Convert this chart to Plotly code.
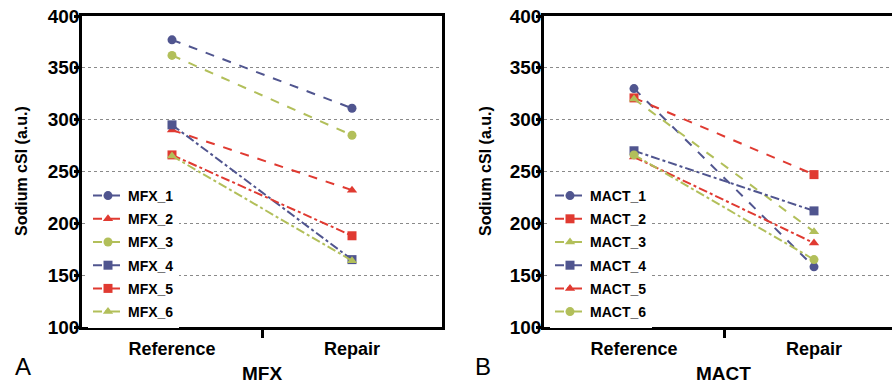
import plotly.graph_objects as go

categories = ["Reference", "Repair"]

mfx_names = ["MFX_1", "MFX_2", "MFX_3", "MFX_4", "MFX_5", "MFX_6"]
mfx_values = [
    [377, 311],
    [290, 232],
    [362, 285],
    [295, 165],
    [266, 188],
    [265, 164],
]

mact_names = ["MACT_1", "MACT_2", "MACT_3", "MACT_4", "MACT_5", "MACT_6"]
mact_values = [
    [330, 158],
    [321, 247],
    [320, 192],
    [270, 212],
    [264, 181],
    [266, 165],
]

y_ticks = [100, 150, 200, 250, 300, 350, 400]

NAVY = "#50558f"
RED = "#e03a31"
OLIVE = "#b2bf5a"

mfx_styles = [
    (NAVY, "circle", "dash"),
    (RED, "triangle-up", "dash"),
    (OLIVE, "circle", "dash"),
    (NAVY, "square", "dashdot"),
    (RED, "square", "dashdot"),
    (OLIVE, "triangle-up", "dashdot"),
]
mact_styles = [
    (NAVY, "circle", "dash"),
    (RED, "square", "dash"),
    (OLIVE, "triangle-up", "dash"),
    (NAVY, "square", "dashdot"),
    (RED, "triangle-up", "dashdot"),
    (OLIVE, "circle", "dashdot"),
]

xpos = list(range(len(categories)))

W, H = 892, 388


def px(x):
    return x / W


def py(y):
    return (H - y) / H


fig = go.Figure()

for i, (name, vals) in enumerate(zip(mfx_names, mfx_values)):
    c, sym, dash = mfx_styles[i]
    fig.add_trace(go.Scatter(
        x=xpos, y=vals, name="<b>%s</b>" % name, mode="lines+markers",
        line=dict(color=c, width=2, dash=dash),
        marker=dict(color=c, symbol=sym, size=9),
        xaxis="x", yaxis="y", legend="legend", legendgroup="a%d" % i,
    ))

for i, (name, vals) in enumerate(zip(mact_names, mact_values)):
    c, sym, dash = mact_styles[i]
    fig.add_trace(go.Scatter(
        x=xpos, y=vals, name="<b>%s</b>" % name, mode="lines+markers",
        line=dict(color=c, width=2, dash=dash),
        marker=dict(color=c, symbol=sym, size=9),
        xaxis="x2", yaxis="y2", legend="legend2", legendgroup="b%d" % i,
    ))

ydom = [py(327), py(16)]
xdom1 = [px(82), px(442)]
xdom2 = [px(544), 1.0]
x2_right = -0.5 + (892 - 544) * 2 / 360

FAM = "Liberation Sans, Arial"
xtickfont = dict(family=FAM, size=18, color="black")
ytickfont = dict(family=FAM, size=19, color="black")


def xaxis_cfg(dom, rng):
    return dict(
        domain=dom, range=rng, tickmode="array", tickvals=xpos,
        ticktext=["<b>%s</b>" % c for c in categories],
        ticks="", showgrid=False, zeroline=False, showline=True, linecolor="black",
        linewidth=2.5, mirror=True, tickfont=xtickfont, automargin=False,
        ticklabelstandoff=4,
        minor=dict(tickmode="array", tickvals=[0.5], ticks="outside", ticklen=8,
                   tickwidth=2.5, tickcolor="black", showgrid=False),
    )


def yaxis_cfg(anchor, mirror):
    return dict(
        domain=ydom, range=[100, 400], tickmode="array", tickvals=y_ticks,
        ticktext=["<b>%d</b>" % v for v in y_ticks],
        ticks="", ticklabeloverflow="allow",
        showline=True, linecolor="black", linewidth=2.5, mirror=mirror,
        showgrid=True, gridcolor="#8a8a8a", gridwidth=1, griddash="dot",
        zeroline=False, tickfont=ytickfont, anchor=anchor, automargin=False,
        ticklabelstandoff=-4,
        minor=dict(tickmode="array", tickvals=y_ticks, ticks="outside", ticklen=5,
                   tickwidth=2.5, tickcolor="black", showgrid=False),
    )


legfont = dict(family=FAM, size=14, color="black")

fig.update_layout(
    width=W, height=H,
    margin=dict(l=0, r=0, t=0, b=0),
    paper_bgcolor="white", plot_bgcolor="white",
    showlegend=True,
    xaxis=xaxis_cfg(xdom1, [-0.5, 1.5]),
    yaxis=yaxis_cfg("x", True),
    xaxis2=xaxis_cfg(xdom2, [-0.5, x2_right]),
    yaxis2=yaxis_cfg("x2", False),
    legend=dict(x=px(88), y=py(180), xanchor="left", yanchor="top",
                bgcolor="white", font=legfont, tracegroupgap=2, itemwidth=30),
    legend2=dict(x=px(550), y=py(180), xanchor="left", yanchor="top",
                 bgcolor="white", font=legfont, tracegroupgap=2, itemwidth=30),
)

ann_font = dict(family=FAM, size=16, color="black")
annotations = [
    dict(text="<b>Sodium cSI (a.u.)</b>", x=px(21), y=py(171), textangle=-90,
         font=ann_font),
    dict(text="<b>Sodium cSI (a.u.)</b>", x=px(485), y=py(171), textangle=-90,
         font=ann_font),
    dict(text="<b>MFX</b>", x=px(262), y=py(373), font=dict(ann_font, size=19)),
    dict(text="<b>MACT</b>", x=px(723), y=py(373), font=dict(ann_font, size=19)),
    dict(text="A", x=px(23), y=py(366), font=dict(family=FAM, size=24, color="black")),
    dict(text="B", x=px(483), y=py(366), font=dict(family=FAM, size=24, color="black")),
]
for a in annotations:
    a.update(xref="paper", yref="paper", showarrow=False, xanchor="center", yanchor="middle")
fig.update_layout(annotations=annotations)

fig.write_html(
    "out.html",
    config={"displayModeBar": False},
    post_script="document.body.style.margin='0';document.body.style.overflow='hidden';",
)
